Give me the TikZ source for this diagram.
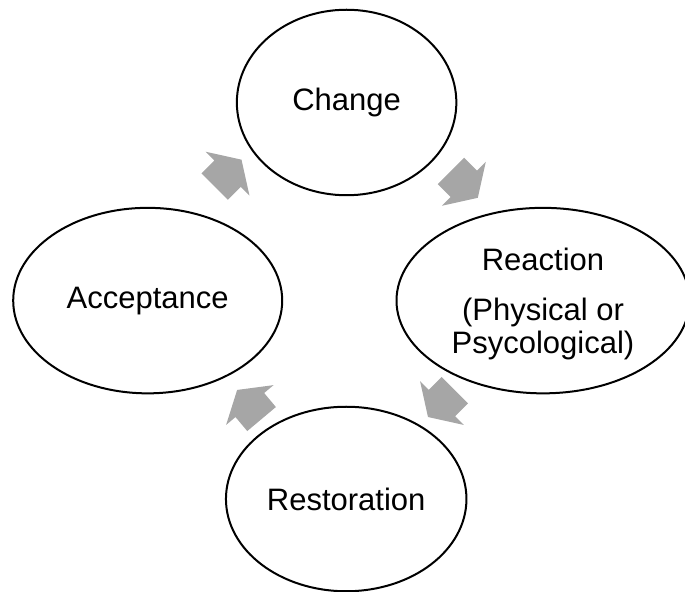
\documentclass[tikz,border=0pt]{standalone}
\usepackage{fontspec}
\setmainfont{Liberation Sans}
\usepackage{tikz}
\usetikzlibrary{shapes,shapes.arrows}
\definecolor{arrowgray}{RGB}{166,166,166}

\begin{document}
\begin{tikzpicture}[every node/.style={font={\fontsize{31bp}{32.6bp}\selectfont}},
  stage/.style={draw, ellipse, line width=2bp, inner sep=0pt, minimum height=185.5bp, align=center},
  cyclearrow/.style={single arrow, fill=arrowgray, draw=none, inner xsep=0pt, inner ysep=18.5bp,
    minimum height=38bp, single arrow head extend=12.25bp, single arrow tip angle=115, anchor=tail}]
  \clip (0bp, 0bp) rectangle (685bp, 592bp);
  % States
  \node (change) at (346.6bp, 489.5bp) [stage, minimum width=219.5bp] {Change};
  \node (reaction) at (543bp, 291.4bp) [stage, minimum width=293bp, text depth=0pt] {Reaction\\[18.1bp](Physical or\\Psycological)};
  \node (restore) at (346.2bp, 93bp) [stage, minimum width=240.5bp, minimum height=184.5bp] {Restoration};
  \node (accept) at (147.7bp, 291.4bp) [stage, minimum width=269bp] {Acceptance};

  % Arrows
  \node (acc2chg) at (214.5bp, 405.3bp) [cyclearrow, rotate=45] {};
  \node (chg2rea) at (450.8bp, 421.2bp) [cyclearrow, rotate=-45] {};
  \node (rea2res) at (455bp, 202bp) [cyclearrow, rotate=225] {};
  \node (res2acc) at (261.7bp, 172.8bp) [cyclearrow, rotate=130] {};
\end{tikzpicture}
\end{document}
